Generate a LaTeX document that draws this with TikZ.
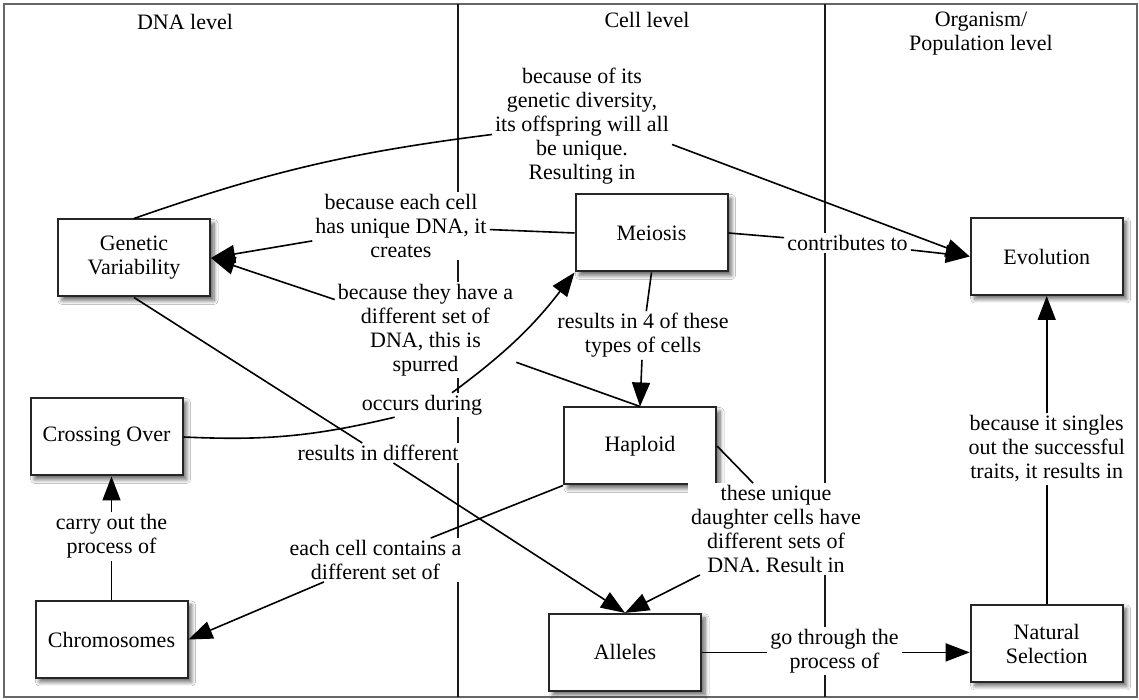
\documentclass[tikz,border=0pt]{standalone}
\usepackage{fontspec}
\setmainfont{Liberation Serif}
\newfontfamily\mapfont{Liberation Serif}
\usetikzlibrary{arrows.meta,shadows.blur,calc}

\begin{document}
\begin{tikzpicture}[x=1pt,y=1pt,
  txt/.style={font=\mapfont\fontsize{22}{24}\selectfont, align=center, text=black},
  concept/.style={txt, draw=black!85, line width=2pt, fill=white,
    minimum width=152pt, minimum height=77pt, inner sep=2pt,
    blur shadow={shadow xshift=4pt, shadow yshift=-4pt, shadow blur steps=8,
      shadow blur radius=4pt, shadow opacity=60}},
  linklabel/.style={txt, fill=white, inner xsep=3pt, inner ysep=2pt},
  heading/.style={txt},
  link/.style={draw=black, line width=1.6pt},
  arrowlink/.style={link, -{Triangle[length=24pt,width=18pt]}},
  level/.style={draw=black!90, line width=2pt},
]
\useasboundingbox (0,0) rectangle (1139,700);
\fill[white] (0,0) rectangle (1139,700);

% outer frame and the three level columns
\draw[draw=black!60, line width=2pt] (4,3) rectangle (1137,696);
\coordinate (d1b) at (457.7,3);  \coordinate (d1t) at (457.7,696);
\coordinate (d2b) at (824.5,3);  \coordinate (d2t) at (824.5,696);
\draw[level] (d1b) -- (d1t);
\draw[level] (d2b) -- (d2t);

% column headings
\node[heading] (hdna)  at (185,678)   {DNA level};
\node[heading] (hcell) at (647,680)   {Cell level};
\node[heading] (horg)  at (981,666.5) {Organism/\\Population level};

% concepts
\node[concept] (gv)  at (134,442)      {Genetic\\Variability};
\node[concept] (mei) at (651.5,467)    {Meiosis};
\node[concept] (evo) at (1046.7,443.5) {Evolution};
\node[concept] (co)  at (106.5,263)    {Crossing Over};
\node[concept] (chr) at (111.5,60.5)   {Chromosomes};
\node[concept] (hap) at (640,254)      {Haploid};
\node[concept] (all) at (625,47.6)     {Alleles};
\node[concept] (ns)  at (1046.7,56.5)  {Natural\\Selection};

% linking phrases
\node[linklabel] (l1)  at (582,573.5)   {because of its\\genetic diversity,\\its offspring will all\\be unique.\\Resulting in};
\node[linklabel] (l2)  at (401,474)     {because each cell\\has unique DNA, it\\creates};
\node[linklabel] (l3)  at (425.5,370)   {because they have a\\different set of\\DNA, this is\\spurred};
\node[linklabel] (l4)  at (422,295)     {occurs during};
\node[linklabel] (l5)  at (378,247)     {results in different};
\node[linklabel] (l6)  at (643,364.5)   {results in 4 of these\\types of cells};
\node[linklabel] (l7)  at (375.5,140)   {each cell contains a\\different set of};
\node[linklabel] (l8)  at (111.5,163.5) {carry out the\\process of};
\node[linklabel] (l9)  at (776,171)     {these unique\\daughter cells have\\different sets of\\DNA. Result in};
\node[linklabel] (l10) at (847.5,457)   {contributes to};
\node[linklabel] (l11) at (834.5,49)    {go through the\\process of};
\node[linklabel] (l12) at (1046.7,251)  {because it singles\\out the successful\\traits, it results in};

% connectors
\draw[link] (gv.north) to[bend left=6] ([yshift=-8pt]l1.west);
\draw[arrowlink] ([yshift=-18pt]l1.east) -- (evo.west);

\draw[link] (mei.west) -- (l2);
\draw[arrowlink] (l2) -- (gv.east);

\draw[link] (hap.north) -- (l3);
\draw[arrowlink] (l3) -- (gv.east);

\draw[link] (co.east) to[bend right=8] ([xshift=36pt]l4.south west);
\draw[arrowlink] ([xshift=30pt]l4.north) to[bend right=8] (mei.south west);

\draw[link] (gv.south) -- (l5);
\draw[arrowlink] (l5) -- (all.north);

\draw[link] (mei.south) -- (l6);
\draw[arrowlink] (l6) -- (hap.north);

\draw[link] (hap.south west) -- (l7);
\draw[arrowlink] (l7) -- (chr.east);

\draw[link] (chr.north) -- (l8);
\draw[arrowlink] (l8) -- (l8 |- co.south);

\draw[link] (hap.east) -- ([xshift=-23pt]l9.north);
\draw[arrowlink] ([xshift=12pt]l9.south west) -- (all.north);

\draw[link] (mei.east) -- (l10);
\draw[arrowlink] (l10) -- (evo.west);

\draw[link] (all.east) -- (all.east -| l11.west);
\draw[arrowlink] (all.east -| l11.east) -- (all.east -| ns.west);

\draw[link] (ns.north) -- (l12);
\draw[arrowlink] (l12) -- (evo.south);
\end{tikzpicture}
\end{document}
